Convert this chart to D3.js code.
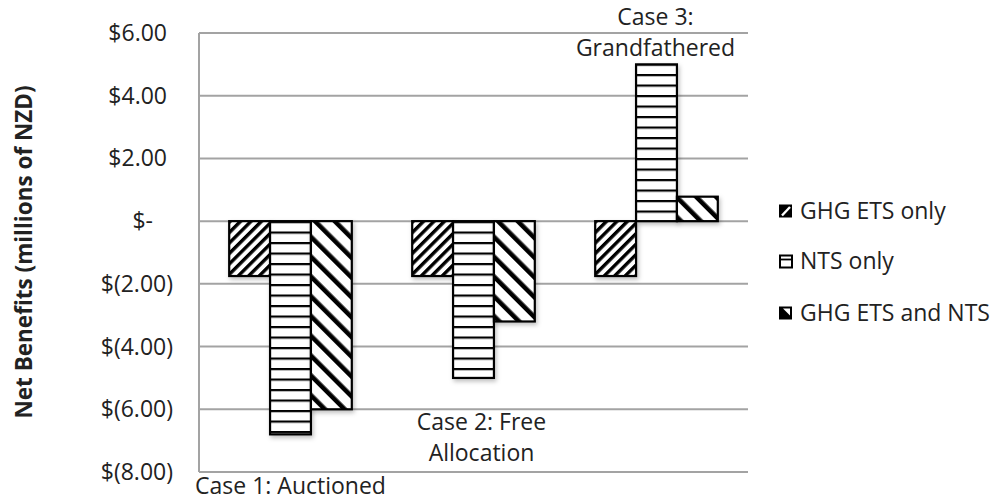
<!DOCTYPE html>
<html><head><meta charset="utf-8">
<script src="https://cdn.jsdelivr.net/npm/d3@7"></script>
<style>
body{margin:0;background:#fff;}
text{font-family:"Open Sans",sans-serif;fill:#222;}
</style></head>
<body><svg id="chart" width="996" height="503"></svg>
<script>
const categories = ["Case 1: Auctioned","Case 2: Free Allocation","Case 3: Grandfathered"];
const categoryLabelLines = [["Case 1: Auctioned"],["Case 2: Free","Allocation"],["Case 3:","Grandfathered"]];
const seriesNames = ["GHG ETS only","NTS only","GHG ETS and NTS"];
const ghgEtsOnly = [-1.75,-1.75,-1.75];
const ntsOnly = [-6.8,-5.0,5.0];
const ghgEtsAndNts = [-6.0,-3.2,0.78];
const tickValues = [6,4,2,0,-2,-4,-6,-8];
const tickLabels = ["$6.00","$4.00","$2.00","$-","$(2.00)","$(4.00)","$(6.00)","$(8.00)"];
const yTitle = "Net Benefits (millions of NZD)";

const seriesValues = [ghgEtsOnly, ntsOnly, ghgEtsAndNts];
const svg = d3.select("#chart");
const defs = svg.append("defs");

// patterns
const p1 = defs.append("pattern").attr("id","pEts").attr("patternUnits","userSpaceOnUse")
  .attr("width",7.4).attr("height",7.4).attr("patternTransform","rotate(45)");
p1.append("rect").attr("width",7.4).attr("height",7.4).attr("fill","#fff");
p1.append("rect").attr("width",3.4).attr("height",7.4).attr("fill","#000");

const p2 = defs.append("pattern").attr("id","pNts").attr("patternUnits","userSpaceOnUse")
  .attr("width",10).attr("height",10.5).attr("y",0.5);
p2.append("rect").attr("width",10).attr("height",10.5).attr("fill","#fff");
p2.append("rect").attr("width",10).attr("height",2.2).attr("fill","#000");

const p3 = defs.append("pattern").attr("id","pBoth").attr("patternUnits","userSpaceOnUse")
  .attr("width",14).attr("height",14).attr("patternTransform","rotate(-45)");
p3.append("rect").attr("width",14).attr("height",14).attr("fill","#fff");
p3.append("rect").attr("width",4.6).attr("height",14).attr("fill","#000");

const fills = ["url(#pEts)","url(#pNts)","url(#pBoth)"];

const flt = defs.append("filter").attr("id","shadow").attr("x","-20%").attr("y","-20%").attr("width","150%").attr("height","150%");
flt.append("feDropShadow").attr("dx",1.5).attr("dy",2.5).attr("stdDeviation",2).attr("flood-color","#000").attr("flood-opacity",0.25);

const y = d3.scaleLinear().domain([-8,6]).range([472,33]);
const x0 = d3.scaleBand().domain(categories).range([199,748]).paddingInner(0.33).paddingOuter(0.165);
const x1 = d3.scaleBand().domain(seriesNames).range([0,x0.bandwidth()]);

// gridlines
svg.append("g").selectAll("line").data(tickValues).join("line")
  .attr("x1",199).attr("x2",748).attr("y1",d=>y(d)).attr("y2",d=>y(d))
  .attr("stroke","#a3a3a3").attr("stroke-width",2);
// left axis line
svg.append("line").attr("x1",199).attr("x2",199).attr("y1",y(6)).attr("y2",y(-8))
  .attr("stroke","#a3a3a3").attr("stroke-width",2);

// tick labels
svg.append("g").selectAll("text").data(tickValues).join("text")
  .attr("x",(d,i)=> d>0 ? 167 : d===0 ? 153 : 173)
  .attr("y",d=>y(d)).attr("dy","0.35em").attr("text-anchor","end")
  .attr("font-size",23).text((d,i)=>tickLabels[i]);

// y title
svg.append("text").attr("transform","translate(32,252) rotate(-90)")
  .attr("text-anchor","middle").attr("font-size",22.5).attr("font-weight","bold")
  .attr("fill","#111").text(yTitle);

// bars
const groups = svg.append("g").selectAll("g").data(categories).join("g")
  .attr("transform",d=>`translate(${x0(d)},0)`);
groups.selectAll("rect").data((c,ci)=>seriesNames.map((s,si)=>({s,si,v:seriesValues[si][ci]})))
  .join("rect")
  .attr("x",d=>x1(d.s)).attr("width",x1.bandwidth())
  .attr("y",d=>y(Math.max(0,d.v))).attr("height",d=>Math.abs(y(d.v)-y(0)))
  .attr("fill",d=>fills[d.si]).attr("stroke","#000").attr("stroke-width",2.2)
  .attr("filter","url(#shadow)");

// category labels (placed as in reference)
const labelPos = [{dx:0,y:[494]},{dx:8,y:[430,461]},{dx:-1,y:[25,56]}];
categories.forEach((c,i)=>{
  const cx = x0(c)+x0.bandwidth()/2 + labelPos[i].dx;
  categoryLabelLines[i].forEach((ln,j)=>{
    svg.append("text").attr("x",cx).attr("y",labelPos[i].y[j]).attr("text-anchor","middle")
      .attr("font-size",23).text(ln);
  });
});

// legend
const legY = [211,261,313];
const leg = svg.append("g");
seriesNames.forEach((s,i)=>{
  const g = leg.append("g").attr("transform",`translate(779,${legY[i]-6.5})`);
  if(i===0){
    g.append("rect").attr("width",13).attr("height",13).attr("fill","#000");
    g.append("line").attr("x1",3).attr("y1",11).attr("x2",11).attr("y2",2.5).attr("stroke","#fff").attr("stroke-width",2.4);
  } else if(i===1){
    g.append("rect").attr("x",1).attr("y",1).attr("width",12).attr("height",12).attr("fill","#fff").attr("stroke","#000").attr("stroke-width",2);
    g.append("line").attr("x1",1).attr("x2",13).attr("y1",5).attr("y2",5).attr("stroke","#000").attr("stroke-width",1.8);
  } else {
    g.append("rect").attr("width",13).attr("height",13).attr("fill","#000");
    g.append("path").attr("d","M4,2 L11,2 L11,9 Z").attr("fill","#fff");
  }
  g.append("text").attr("x",21).attr("y",6.5).attr("dy","0.35em").attr("font-size",23).text(s);
});
</script></body></html>
